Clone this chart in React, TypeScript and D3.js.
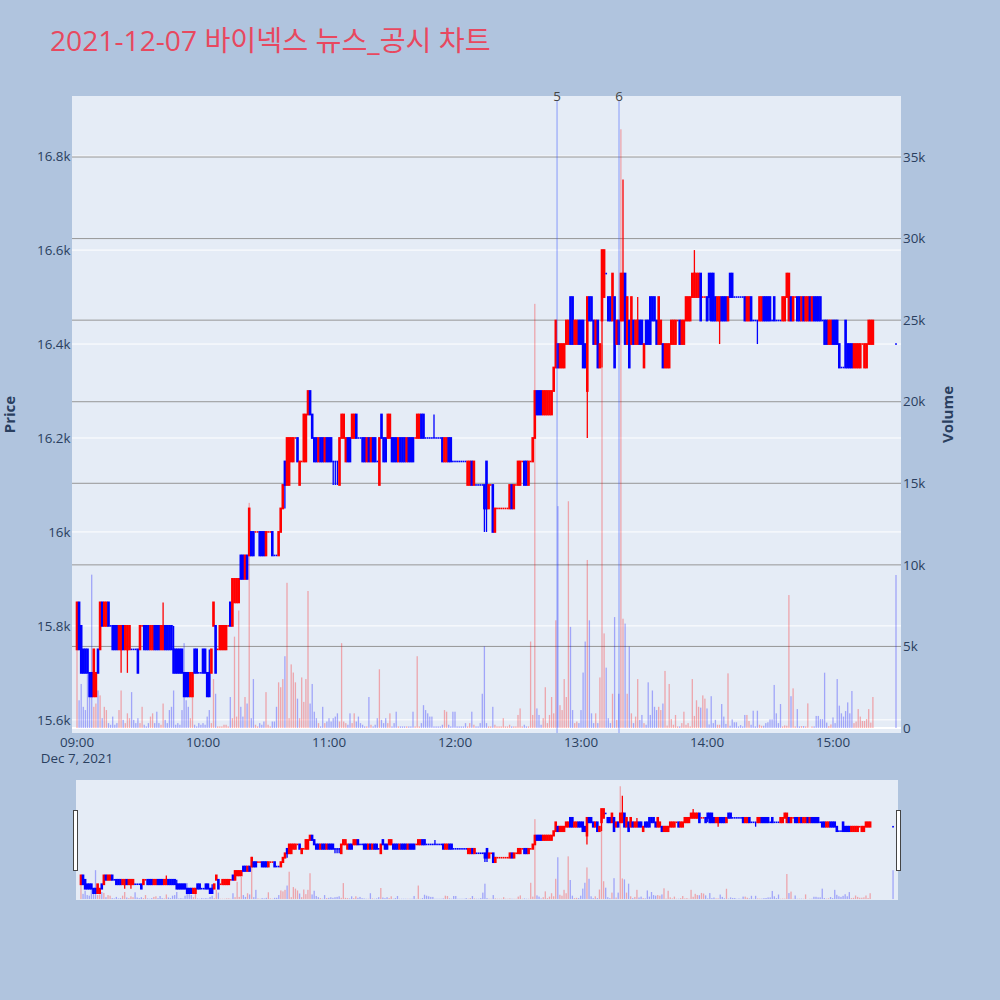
import React from 'react';
import * as d3 from 'd3';

// ---------------- data ----------------
const TITLE = '2021-12-07 바이넥스 뉴스_공시 차트';

// minute offsets from 09:00 (regular session 09:00-15:19 + closing auction at 15:30)
const minuteOffsets: number[] = [...d3.range(0, 380), 390];

const opens: number[] = [
  15750,15850,15800,15750,15750,15750,15700,15700,15650,15650,
  15750,15750,15850,15800,15800,15850,15800,15800,15800,15800,
  15750,15750,15800,15750,15750,15750,15750,15750,15750,15750,
  15750,15800,15800,15800,15800,15750,15750,15800,15800,15800,
  15750,15750,15800,15800,15800,15800,15750,15750,15750,15750,
  15750,15700,15700,15700,15650,15650,15750,15750,15700,15700,
  15750,15750,15700,15700,15700,15800,15800,15750,15750,15750,
  15750,15750,15800,15850,15800,15850,15850,15850,15950,15950,
  15900,15950,15950,16000,16000,16000,16000,16000,16000,16000,
  15950,16000,16000,16000,15950,15950,15950,16000,16050,16150,
  16100,16100,16150,16150,16200,16200,16100,16150,16150,16150,
  16250,16300,16250,16200,16200,16150,16200,16200,16150,16200,
  16200,16200,16150,16150,16150,16100,16200,16200,16150,16200,
  16200,16200,16200,16250,16200,16200,16200,16200,16150,16200,
  16150,16200,16200,16150,16100,16250,16200,16200,16200,16200,
  16200,16200,16200,16150,16200,16200,16200,16150,16200,16200,
  16200,16200,16200,16200,16250,16250,16200,16200,16200,16200,
  16200,16200,16200,16200,16200,16150,16150,16200,16200,16150,
  16150,16150,16150,16150,16150,16150,16100,16100,16150,16100,
  16100,16100,16100,16100,16100,16150,16050,16100,16100,16000,
  16050,16050,16050,16050,16050,16050,16050,16100,16050,16100,
  16100,16100,16150,16150,16150,16100,16150,16150,16200,16300,
  16300,16300,16250,16250,16250,16250,16250,16300,16350,16400,
  16350,16350,16350,16400,16400,16500,16500,16400,16400,16450,
  16450,16450,16400,16300,16500,16500,16450,16400,16450,16350,
  16450,16500,16550,16500,16500,16450,16500,16400,16450,16450,
  16450,16550,16400,16450,16400,16450,16400,16400,16450,16450,
  16350,16450,16450,16500,16500,16500,16450,16400,16400,16400,
  16350,16350,16350,16400,16400,16400,16450,16450,16400,16400,
  16450,16450,16450,16500,16500,16500,16500,16550,16500,16500,
  16500,16550,16550,16550,16500,16450,16450,16500,16500,16500,
  16450,16550,16550,16500,16500,16500,16500,16500,16500,16450,
  16450,16500,16450,16450,16450,16450,16450,16500,16500,16500,
  16500,16450,16500,16450,16450,16450,16450,16450,16500,16450,
  16500,16450,16500,16500,16500,16450,16500,16450,16450,16500,
  16450,16500,16500,16500,16500,16450,16450,16450,16400,16400,
  16450,16450,16450,16400,16350,16350,16450,16400,16400,16400,
  16350,16350,16350,16350,16400,16350,16350,16400,16400,16400,
  16400,
];

const closes: number[] = [
  15850,15750,15700,15700,15700,15700,15650,15650,15750,15700,
  15700,15850,15800,15850,15850,15800,15800,15750,15750,15750,
  15800,15800,15750,15800,15800,15800,15750,15750,15750,15700,
  15800,15800,15750,15750,15750,15800,15800,15750,15750,15750,
  15800,15800,15750,15750,15750,15750,15700,15700,15700,15700,
  15700,15650,15650,15650,15700,15700,15700,15700,15700,15700,
  15700,15700,15650,15650,15750,15850,15700,15750,15800,15800,
  15800,15800,15800,15800,15900,15900,15900,15900,15900,15900,
  15950,15900,16050,15950,15950,16000,16000,15950,15950,15950,
  16000,16000,16000,15950,15950,15950,16000,16050,16100,16100,
  16200,16200,16200,16200,16200,16150,16150,16150,16250,16250,
  16300,16250,16200,16150,16150,16200,16150,16150,16200,16150,
  16150,16150,16150,16150,16150,16200,16250,16250,16200,16150,
  16150,16250,16250,16200,16200,16200,16150,16150,16200,16150,
  16200,16150,16150,16150,16200,16200,16150,16150,16250,16250,
  16150,16150,16150,16200,16150,16150,16150,16200,16150,16150,
  16150,16200,16250,16250,16200,16200,16200,16200,16200,16200,
  16200,16200,16200,16200,16150,16200,16200,16150,16150,16150,
  16150,16150,16150,16150,16150,16150,16150,16150,16100,16150,
  16100,16100,16100,16100,16050,16050,16100,16100,16000,16050,
  16050,16050,16050,16050,16050,16050,16100,16050,16100,16100,
  16150,16150,16150,16100,16100,16150,16150,16200,16300,16250,
  16250,16250,16300,16300,16300,16300,16300,16350,16450,16350,
  16400,16400,16400,16450,16450,16400,16400,16450,16450,16400,
  16400,16350,16350,16500,16450,16450,16400,16450,16350,16400,
  16600,16600,16550,16450,16450,16550,16350,16450,16400,16550,
  16550,16400,16500,16350,16500,16400,16450,16450,16400,16400,
  16400,16400,16400,16400,16450,16450,16400,16500,16450,16350,
  16400,16400,16400,16450,16450,16450,16450,16400,16450,16450,
  16500,16500,16500,16550,16550,16550,16550,16450,16500,16500,
  16450,16500,16450,16450,16450,16500,16500,16450,16450,16450,
  16500,16500,16500,16500,16500,16500,16500,16500,16450,16500,
  16500,16450,16450,16450,16450,16500,16500,16450,16450,16450,
  16450,16450,16450,16450,16450,16450,16500,16500,16550,16550,
  16450,16500,16500,16450,16450,16500,16450,16500,16500,16450,
  16500,16450,16450,16450,16450,16450,16400,16400,16450,16450,
  16400,16400,16400,16350,16350,16350,16350,16350,16350,16350,
  16400,16400,16400,16400,16400,16400,16400,16450,16450,16450,
  16400,
];

// wick ends that reach beyond the candle body (index -> price)
const wickHighs: Record<number, number> = {
  41: 15850, 46: 15800, 63: 15750, 170: 16250, 260: 16750, 267: 16500, 294: 16600,
};
const wickLows: Record<number, number> = {
  21: 15700, 24: 15700, 99: 16050, 122: 16100, 123: 16100, 124: 16100,
  194: 16000, 195: 16000, 243: 16200, 250: 16350, 301: 16450, 306: 16400, 324: 16400,
};

const volumes: number[] = [
  4800,1700,2700,1300,1100,3300,2300,9400,1300,1500,
  2300,2000,600,1300,1100,300,200,700,200,300,
  1100,2300,500,300,900,600,2200,500,300,600,
  300,1300,200,100,300,700,900,300,1000,300,
  200,1500,500,300,1100,1300,2300,200,300,200,
  1100,5200,1700,1300,600,2300,200,100,300,200,
  300,200,700,1100,300,3000,2100,100,100,100,
  200,200,100,1900,600,5600,700,7200,1300,700,
  1900,1500,13800,600,3000,200,100,300,200,400,
  2200,200,100,400,400,1300,2800,2500,3000,4400,
  8900,600,3900,3400,2800,1800,600,3100,1600,3000,
  8400,1500,2700,1000,600,300,100,1300,300,400,
  600,400,600,700,900,400,5200,400,300,200,
  900,300,900,400,700,300,200,100,100,1900,
  200,100,200,600,3600,500,300,600,300,900,
  100,300,1000,100,100,100,100,100,100,100,
  1000,100,4400,100,300,1400,1100,900,700,700,
  100,100,100,100,200,1100,1000,200,100,1000,
  1000,100,100,100,100,300,100,300,1000,200,
  100,100,300,2100,5000,300,100,100,1300,200,
  100,100,100,600,100,100,200,100,100,100,
  800,1200,100,200,100,100,5300,800,26000,1200,
  800,200,600,2500,300,800,1900,900,6600,13600,
  1400,1100,3000,1900,13900,6200,1100,300,400,300,
  1100,3400,5300,10300,6600,900,300,900,300,3100,
  23500,5800,3700,600,300,2100,6800,500,2100,36700,
  6700,6400,2100,5000,900,300,700,3000,500,800,
  300,200,2800,800,2300,1300,1100,1300,1100,1500,
  3500,150,2700,550,200,800,100,100,300,1000,
  200,300,100,3000,740,1700,1300,1250,2000,1800,
  1200,220,1950,300,500,200,200,1470,700,250,
  3350,140,530,350,350,100,180,100,800,800,
  430,200,1060,100,1060,200,140,140,300,350,
  530,530,2640,900,300,1470,100,160,140,8150,
  1950,2430,100,1160,100,120,120,100,1510,20,
  100,100,740,740,550,550,3390,330,120,220,
  650,300,3000,1370,900,700,1040,1570,900,2270,
  300,400,1160,700,430,430,550,1160,330,1900,
  9380,
];

// news / disclosure markers
const newsTimes: string[] = ['12:48:36', '13:18:06'];
const newsLabels: string[] = ['5', '6'];

const priceTicks: number[] = [15600, 15800, 16000, 16200, 16400, 16600, 16800];
const volumeTicks: number[] = [0, 5000, 10000, 15000, 20000, 25000, 30000, 35000];

// ---------------- layout / style ----------------
const W = 1000;
const H = 1000;
const PLOT = { left: 72, right: 901, top: 96, bottom: 733 };
const SLIDER = { left: 76, right: 898, top: 780, bottom: 900 };
const FONT = "'Open Sans', verdana, arial, sans-serif";
const TICK_FS = 13.4;
const TEXT = '#2a3f5f';
const UP = '#ff0000';
const DOWN = '#0000ff';
const PAPER = '#b0c4de';
const PLOTBG = '#e5ecf6';

const day0 = new Date(2021, 11, 7, 9, 0, 0).getTime();
const at = (min: number) => new Date(day0 + min * 60000);
const parseHMS = (s: string) => {
  const [h, m, sec] = s.split(':').map(Number);
  return new Date(2021, 11, 7, h, m, sec);
};

const times = minuteOffsets.map((m) => at(m));
const highs = opens.map((o, i) => (wickHighs[i] !== undefined ? wickHighs[i] : Math.max(o, closes[i])));
const lows = opens.map((o, i) => (wickLows[i] !== undefined ? wickLows[i] : Math.min(o, closes[i])));

// plotly direction rule: close vs open, ties compared with previous close, else keep previous
const dirs: number[] = (() => {
  const out: number[] = [];
  let prev = 1;
  closes.forEach((c, i) => {
    const o = opens[i];
    let d: number;
    if (c > o) d = 1;
    else if (c < o) d = -1;
    else if (i > 0 && c > closes[i - 1]) d = 1;
    else if (i > 0 && c < closes[i - 1]) d = -1;
    else d = prev;
    prev = d;
    out.push(d);
  });
  return out;
})();

const PRICE_DOMAIN: [number, number] = [15572, 16928];
const VOL_DOMAIN: [number, number] = [-306, 38740];

function Candles({ xs, yp, prefix }: { xs: any; yp: any; prefix: string }) {
  return (
    <g>
      {times.map((t, i) => {
        const cx = xs(t);
        const col = dirs[i] > 0 ? UP : DOWN;
        const yo = yp(opens[i]);
        const yc = yp(closes[i]);
        const flat = opens[i] === closes[i];
        const bw = flat ? 1.7 : 2.6;
        const pad = flat ? 0.8 : 0.9;
        const top = Math.min(yo, yc) - pad;
        const bot = Math.max(yo, yc) + pad;
        const hasWick = highs[i] !== lows[i];
        return (
          <g key={prefix + i}>
            {hasWick && (
              <line x1={cx} x2={cx} y1={yp(highs[i])} y2={yp(lows[i])} stroke={col} strokeWidth={1.3} />
            )}
            <rect x={cx - bw / 2} y={top} width={bw} height={bot - top} fill={col} />
          </g>
        );
      })}
    </g>
  );
}

function Volumes({ xs, yv, prefix }: { xs: any; yv: any; prefix: string }) {
  const y0 = yv(0);
  return (
    <g>
      {times.map((t, i) => {
        const cx = xs(t);
        const y1 = yv(volumes[i]);
        return (
          <rect
            key={prefix + i}
            x={cx - 0.65}
            y={y1}
            width={1.3}
            height={Math.max(0, y0 - y1)}
            fill={dirs[i] > 0 ? 'rgba(255,0,0,0.3)' : 'rgba(0,0,255,0.3)'}
          />
        );
      })}
    </g>
  );
}

export default function App() {
  const x = d3.scaleTime().domain([at(-2.38), at(392.38)]).range([PLOT.left, PLOT.right]);
  const yP = d3.scaleLinear().domain(PRICE_DOMAIN).range([PLOT.bottom, PLOT.top]);
  const yV = d3.scaleLinear().domain(VOL_DOMAIN).range([PLOT.bottom, PLOT.top]);

  const xS = d3.scaleTime().domain([at(-2.38), at(392.38)]).range([SLIDER.left, SLIDER.right]);
  const yPS = d3.scaleLinear().domain(PRICE_DOMAIN).range([SLIDER.bottom, SLIDER.top]);
  const yVS = d3.scaleLinear().domain(VOL_DOMAIN).range([SLIDER.bottom, SLIDER.top]);

  const hourTicks = x.ticks(d3.timeHour.every(1) as any);
  const fmtHM = d3.timeFormat('%H:%M');
  const fmtDate = d3.timeFormat('%b %-d, %Y');
  const kfmt = (v: number) => (v === 0 ? '0' : `${v / 1000}k`);

  return (
    <div style={{ position: 'absolute', left: 0, top: 0, width: W, height: H }}>
      <svg width={W} height={H} style={{ display: 'block' }} fontFamily={FONT}>
        <rect x={0} y={0} width={W} height={H} fill={PAPER} />

        {/* title */}
        <text x={50} y={51} fontSize={28.2} fill="#e8485f" fontFamily="'Open Sans', 'Noto Sans CJK KR', sans-serif">
          {TITLE}
        </text>

        {/* plot background */}
        <rect x={PLOT.left} y={PLOT.top} width={PLOT.right - PLOT.left} height={PLOT.bottom - PLOT.top} fill={PLOTBG} />

        {/* price grid (white) */}
        {priceTicks.map((p) => (
          <line key={'pg' + p} x1={PLOT.left} x2={PLOT.right} y1={yP(p)} y2={yP(p)} stroke="#ffffff" strokeWidth={1} />
        ))}
        {/* volume grid (gray) */}
        {volumeTicks.filter((v) => v > 0).map((v) => (
          <line key={'vg' + v} x1={PLOT.left} x2={PLOT.right} y1={yV(v)} y2={yV(v)} stroke="#969696" strokeWidth={1} />
        ))}
        <line x1={PLOT.left} x2={PLOT.right} y1={yV(0)} y2={yV(0)} stroke="#ffffff" strokeWidth={2} />

        {/* volume bars + candles */}
        <Volumes xs={x} yv={yV} prefix="v" />
        <Candles xs={x} yp={yP} prefix="c" />

        {/* news markers */}
        {newsTimes.map((s, i) => {
          const nx = x(parseHMS(s));
          return (
            <g key={'n' + i}>
              <line x1={nx} x2={nx} y1={PLOT.top + 4} y2={PLOT.bottom} stroke="rgba(60,90,255,0.35)" strokeWidth={1.6} />
              <text x={nx} y={101} textAnchor="middle" fontSize={TICK_FS} fill="#444">
                {newsLabels[i]}
              </text>
            </g>
          );
        })}

        {/* left price tick labels */}
        {priceTicks.map((p) => (
          <text key={'pl' + p} x={70.5} y={yP(p)} dy="0.35em" textAnchor="end" fontSize={TICK_FS} fill={TEXT}>
            {kfmt(p)}
          </text>
        ))}
        {/* right volume tick labels */}
        {volumeTicks.map((v) => (
          <text key={'vl' + v} x={903} y={yV(v)} dy="0.35em" textAnchor="start" fontSize={TICK_FS} fill={TEXT}>
            {kfmt(v)}
          </text>
        ))}
        {/* x tick labels */}
        {hourTicks.map((t, i) => (
          <g key={'xt' + i}>
            <text x={x(t)} y={746.5} textAnchor="middle" fontSize={TICK_FS} fill={TEXT}>
              {fmtHM(t)}
            </text>
            {i === 0 && (
              <text x={x(t)} y={762.5} textAnchor="middle" fontSize={TICK_FS} fill={TEXT}>
                {fmtDate(t)}
              </text>
            )}
          </g>
        ))}

        {/* axis titles */}
        <text transform="translate(14.5,414.5) rotate(-90)" textAnchor="middle" fontSize={15} fontWeight="bold" fill={TEXT}>
          Price
        </text>
        <text transform="translate(952.5,414.5) rotate(-90)" textAnchor="middle" fontSize={15} fontWeight="bold" fill={TEXT}>
          Volume
        </text>

        {/* range slider */}
        <rect x={SLIDER.left} y={SLIDER.top} width={SLIDER.right - SLIDER.left} height={SLIDER.bottom - SLIDER.top} fill={PLOTBG} />
        <g>
          <Volumes xs={xS} yv={yVS} prefix="sv" />
          <Candles xs={xS} yp={yPS} prefix="sc" />
        </g>
        <rect x={73.5} y={810.5} width={4} height={60} fill="#ffffff" stroke="#444" strokeWidth={1} />
        <rect x={896.5} y={810.5} width={4} height={60} fill="#ffffff" stroke="#444" strokeWidth={1} />
      </svg>
    </div>
  );
}
